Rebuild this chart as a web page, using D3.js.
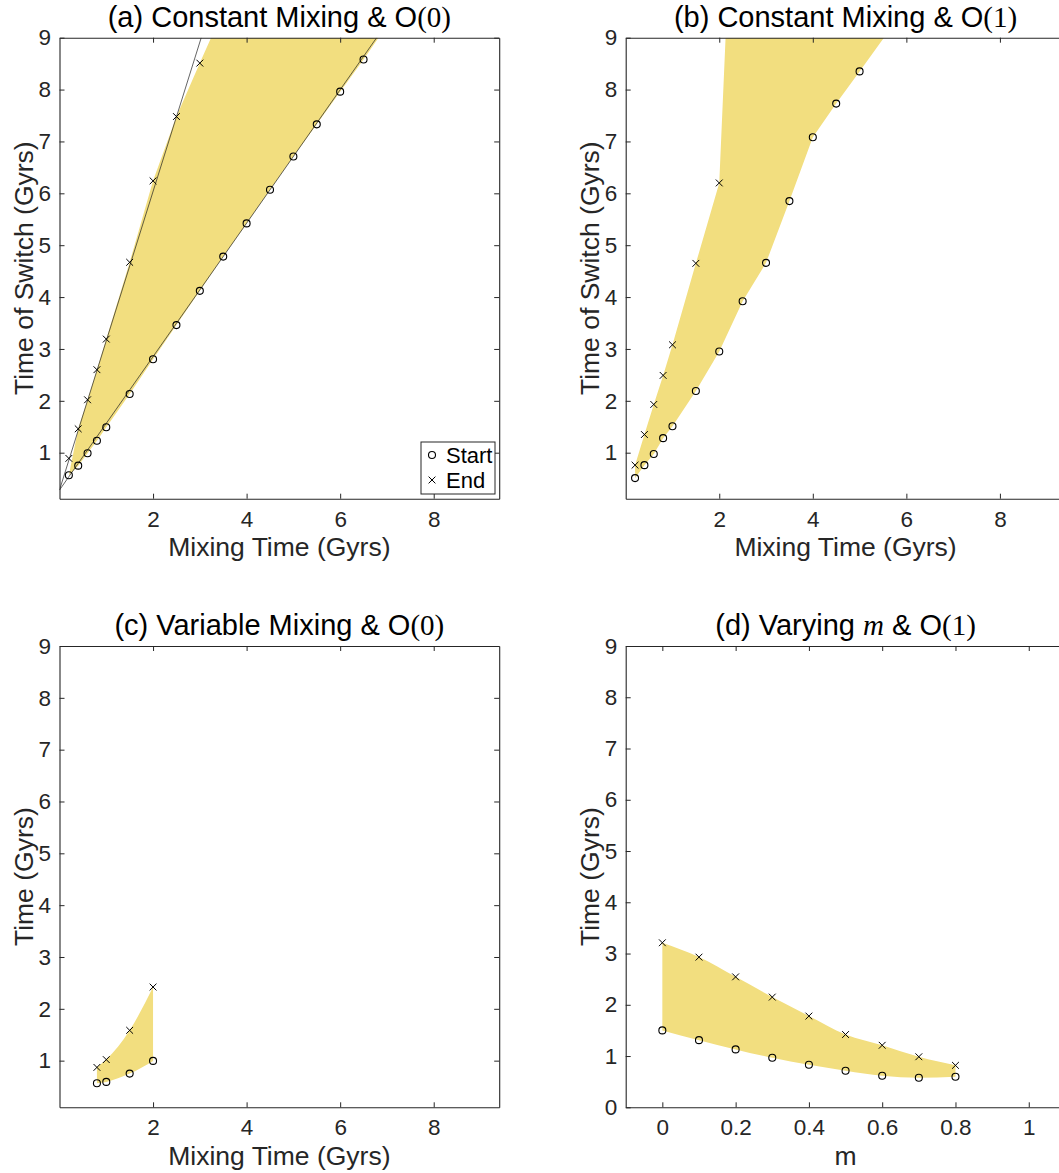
<!DOCTYPE html>
<html>
<head>
<meta charset="utf-8">
<script src="https://cdn.jsdelivr.net/npm/d3@7"></script>
<style>
  html, body { margin: 0; padding: 0; background: #fff; }
  svg { display: block; }
  text { font-family: "Liberation Sans", Arial, Helvetica, sans-serif; }
</style>
</head>
<body>
<svg id="fig" width="1059" height="1173"></svg>
<script>
// ---- (a) constant mixing, O(0) ----
const mixStartA = [0.2, 0.4, 0.6, 0.8, 1.0, 1.5, 2.0, 2.5, 3.0, 3.5, 4.0, 4.5, 5.0, 5.5, 6.0, 6.5];
const startA    = [0.565, 0.75, 0.99, 1.23, 1.49, 2.13, 2.80, 3.46, 4.12, 4.78, 5.42, 6.07, 6.71, 7.33, 7.96, 8.58];
const mixEndA   = [0.2, 0.4, 0.6, 0.8, 1.0, 1.5, 2.0, 2.5, 3.0];
const endA      = [0.89, 1.46, 2.02, 2.60, 3.19, 4.67, 6.24, 7.48, 8.51];
// where the band edges leave the top of the axes (end edge, start edge)
const bandTopA  = [[3.24, 9], [6.82, 9]];
// straight-line fits through the end and start times
const fitEndA   = [[0.0, 0.28], [3.03, 9]];
const fitStartA = [[0.0, 0.28], [6.78, 9]];

// ---- (b) constant mixing, O(1) ----
const mixStartB = [0.2, 0.4, 0.6, 0.8, 1.0, 1.5, 2.0, 2.5, 3.0, 3.5, 4.0, 4.5, 5.0];
const startB    = [0.51, 0.76, 0.975, 1.28, 1.51, 2.19, 2.95, 3.92, 4.66, 5.85, 7.08, 7.73, 8.35];
const mixEndB   = [0.2, 0.4, 0.6, 0.8, 1.0, 1.5, 2.0];
const endB      = [0.76, 1.35, 1.93, 2.49, 3.08, 4.65, 6.20];
const bandTopB  = [[2.135, 9], [5.52, 9]];

// ---- (c) variable mixing, O(0) ----
const mixC   = [0.8, 1.0, 1.5, 2.0];
const startC = [0.565, 0.59, 0.75, 0.995];
const endC   = [0.87, 1.02, 1.585, 2.42];

// ---- (d) varying m, O(1) ----
const mD     = [0, 0.1, 0.2, 0.3, 0.4, 0.5, 0.6, 0.7, 0.8];
const startD = [1.50, 1.31, 1.13, 0.966, 0.83, 0.713, 0.616, 0.577, 0.596];
const endD   = [3.21, 2.93, 2.545, 2.15, 1.78, 1.42, 1.21, 0.986, 0.818];

// ---- axis ticks ----
const mixTicks  = [2, 4, 6, 8];
const mTicks    = [0, 0.2, 0.4, 0.6, 0.8, 1];
const timeTicks = [1, 2, 3, 4, 5, 6, 7, 8, 9];
const timeTicks0 = [0, 1, 2, 3, 4, 5, 6, 7, 8, 9];

const legendLabels = ["Start", "End"];

const zip = (xs, ys) => xs.map((x, i) => [x, ys[i]]);

const AXIS = "#262626";
const FILL = "#F2DE7F";
const TICK_FS = 22.5, LABEL_FS = 26.5, TITLE_FS = 29;
const MR = 3.5, MC = 3.4;
const svg = d3.select("#fig");

function crossPath(px, py, c) {
  return `M${px - c},${py - c}L${px + c},${py + c}M${px - c},${py + c}L${px + c},${py - c}`;
}

function drawPanel(o) {
  const g = svg.append("g");
  const x = d3.scaleLinear().domain(o.xDomain).range([o.left, o.left + 439.7]);
  const y = d3.scaleLinear().domain(o.yDomain).range([o.bottom, o.top]);
  const clipId = "clip-" + o.id;
  svg.append("clipPath").attr("id", clipId)
    .append("rect").attr("x", x.range()[0]).attr("y", o.top)
    .attr("width", x.range()[1] - x.range()[0]).attr("height", o.bottom - o.top);

  const plot = g.append("g").attr("clip-path", `url(#${clipId})`);

  // shaded band between end (upper) and start (lower) edges
  if (o.smooth) {
    const area = d3.area().x(d => x(d[0])).y0(d => y(d[1])).y1(d => y(d[2])).curve(d3.curveMonotoneX);
    const rows = o.start.map((p, i) => [p[0], p[1], o.end[i][1]]);
    plot.append("path").attr("d", area(rows)).attr("fill", FILL).attr("stroke", "none");
  } else {
    const poly = o.upper.concat(o.lower.slice().reverse());
    plot.append("path").attr("d", d3.line().x(d => x(d[0])).y(d => y(d[1]))(poly) + "Z")
      .attr("fill", FILL).attr("stroke", "none");
  }

  (o.fits || []).forEach(f => {
    plot.append("path").attr("d", d3.line().x(d => x(d[0])).y(d => y(d[1]))(f))
      .attr("fill", "none").attr("stroke", "#222").attr("stroke-width", 0.7);
  });

  // start markers (circles) and end markers (crosses)
  plot.selectAll("circle.s").data(o.start).join("circle")
    .attr("cx", d => x(d[0])).attr("cy", d => y(d[1])).attr("r", MR)
    .attr("fill", "none").attr("stroke", "#000").attr("stroke-width", 1.1);
  plot.selectAll("path.e").data(o.end).join("path")
    .attr("d", d => crossPath(x(d[0]), y(d[1]), MC))
    .attr("stroke", "#000").attr("stroke-width", 1).attr("fill", "none");

  // axes box with ticks on all four sides
  const fmt = o.xFormat || (d => String(d));
  const ax = g.append("g").attr("class", "axes");
  const axB = d3.axisBottom(x).tickValues(o.xTicks).tickSizeInner(-5).tickSizeOuter(0).tickPadding(12).tickFormat(fmt);
  const axT = d3.axisTop(x).tickValues(o.xTicks).tickSizeInner(-5).tickSizeOuter(0).tickFormat("");
  const axL = d3.axisLeft(y).tickValues(o.yTicks).tickSizeInner(-5).tickSizeOuter(0).tickPadding(8.5).tickFormat(d => String(d));
  const axR = d3.axisRight(y).tickValues(o.yTicks).tickSizeInner(-5).tickSizeOuter(0).tickFormat("");
  [[axB, `translate(0,${o.bottom})`], [axT, `translate(0,${o.top})`],
   [axL, `translate(${o.left},0)`], [axR, `translate(${x.range()[1]},0)`]].forEach(([a, t]) => {
    const s = ax.append("g").attr("transform", t).call(a);
    s.select(".domain").attr("stroke", AXIS).attr("stroke-width", 1.1);
    s.selectAll(".tick line").attr("stroke", AXIS).attr("stroke-width", 1);
    s.selectAll(".tick text").attr("fill", AXIS).attr("font-size", TICK_FS)
      .attr("font-family", '"Liberation Sans", Arial, sans-serif');
  });

  // title
  const t = g.append("text").attr("x", (o.left + x.range()[1]) / 2).attr("y", o.top - 11)
    .attr("text-anchor", "middle").attr("font-size", TITLE_FS).attr("fill", "#000");
  o.title.forEach(p => {
    const ts = t.append("tspan").text(p.t);
    if (p.serif) ts.attr("font-family", '"Liberation Serif", "Times New Roman", serif');
    if (p.italic) ts.attr("font-style", "italic");
  });

  // axis labels
  g.append("text").attr("x", (o.left + x.range()[1]) / 2).attr("y", o.bottom + 57.5)
    .attr("text-anchor", "middle").attr("font-size", LABEL_FS).attr("fill", AXIS).text(o.xLabel);
  g.append("text")
    .attr("transform", `translate(${o.left - 27},${(o.top + o.bottom) / 2}) rotate(-90)`)
    .attr("text-anchor", "middle").attr("font-size", LABEL_FS).attr("fill", AXIS).text(o.yLabel);

  return { g, x, y };
}

const startPtsA = zip(mixStartA, startA), endPtsA = zip(mixEndA, endA);
const pA = drawPanel({
  id: "a", left: 59.5, top: 37.7, bottom: 498.7,
  xDomain: [0, 9.4], yDomain: [0.113, 9], xTicks: mixTicks, yTicks: timeTicks,
  start: startPtsA, end: endPtsA,
  upper: [startPtsA[0]].concat(endPtsA.slice(1), [bandTopA[0]]),
  lower: startPtsA.concat([bandTopA[1]]),
  fits: [fitEndA, fitStartA],
  title: [{ t: "(a) Constant Mixing & O" }, { t: "(0)", serif: true }],
  xLabel: "Mixing Time (Gyrs)", yLabel: "Time of Switch (Gyrs)"
});

const startPtsB = zip(mixStartB, startB), endPtsB = zip(mixEndB, endB);
drawPanel({
  id: "b", left: 625.7, top: 37.7, bottom: 498.7,
  xDomain: [0, 9.4], yDomain: [0.113, 9], xTicks: mixTicks, yTicks: timeTicks,
  start: startPtsB, end: endPtsB,
  upper: [startPtsB[0]].concat(endPtsB, [bandTopB[0]]),
  lower: startPtsB.concat([bandTopB[1]]),
  title: [{ t: "(b) Constant Mixing & O" }, { t: "(1)", serif: true }],
  xLabel: "Mixing Time (Gyrs)", yLabel: "Time of Switch (Gyrs)"
});

drawPanel({
  id: "c", left: 59.5, top: 646, bottom: 1107.3,
  xDomain: [0, 9.4], yDomain: [0.1, 9], xTicks: mixTicks, yTicks: timeTicks,
  start: zip(mixC, startC), end: zip(mixC, endC), smooth: true,
  title: [{ t: "(c) Variable Mixing & O" }, { t: "(0)", serif: true }],
  xLabel: "Mixing Time (Gyrs)", yLabel: "Time (Gyrs)"
});

drawPanel({
  id: "d", left: 625.7, top: 646, bottom: 1107.3,
  xDomain: [-0.1, 1.1], yDomain: [0, 9], xTicks: mTicks, yTicks: timeTicks0,
  start: zip(mD, startD), end: zip(mD, endD), smooth: true,
  title: [{ t: "(d) Varying " }, { t: "m", serif: true, italic: true }, { t: " & O" }, { t: "(1)", serif: true }],
  xLabel: "m", yLabel: "Time (Gyrs)"
});

// legend for panel (a), lower-right corner
const lg = pA.g.append("g").attr("transform", "translate(421,442)");
lg.append("rect").attr("width", 74).attr("height", 52)
  .attr("fill", "#fff").attr("stroke", AXIS).attr("stroke-width", 1);
legendLabels.forEach((lab, i) => {
  const cy = 13 + i * 25;
  if (i === 0) {
    lg.append("circle").attr("cx", 11).attr("cy", cy).attr("r", MR)
      .attr("fill", "none").attr("stroke", "#000").attr("stroke-width", 1.1);
  } else {
    lg.append("path").attr("d", crossPath(11, cy, MC))
      .attr("stroke", "#000").attr("stroke-width", 1);
  }
  lg.append("text").attr("x", 25).attr("y", cy + 8).attr("font-size", 22).attr("fill", "#000").text(lab);
});
</script>
</body>
</html>
